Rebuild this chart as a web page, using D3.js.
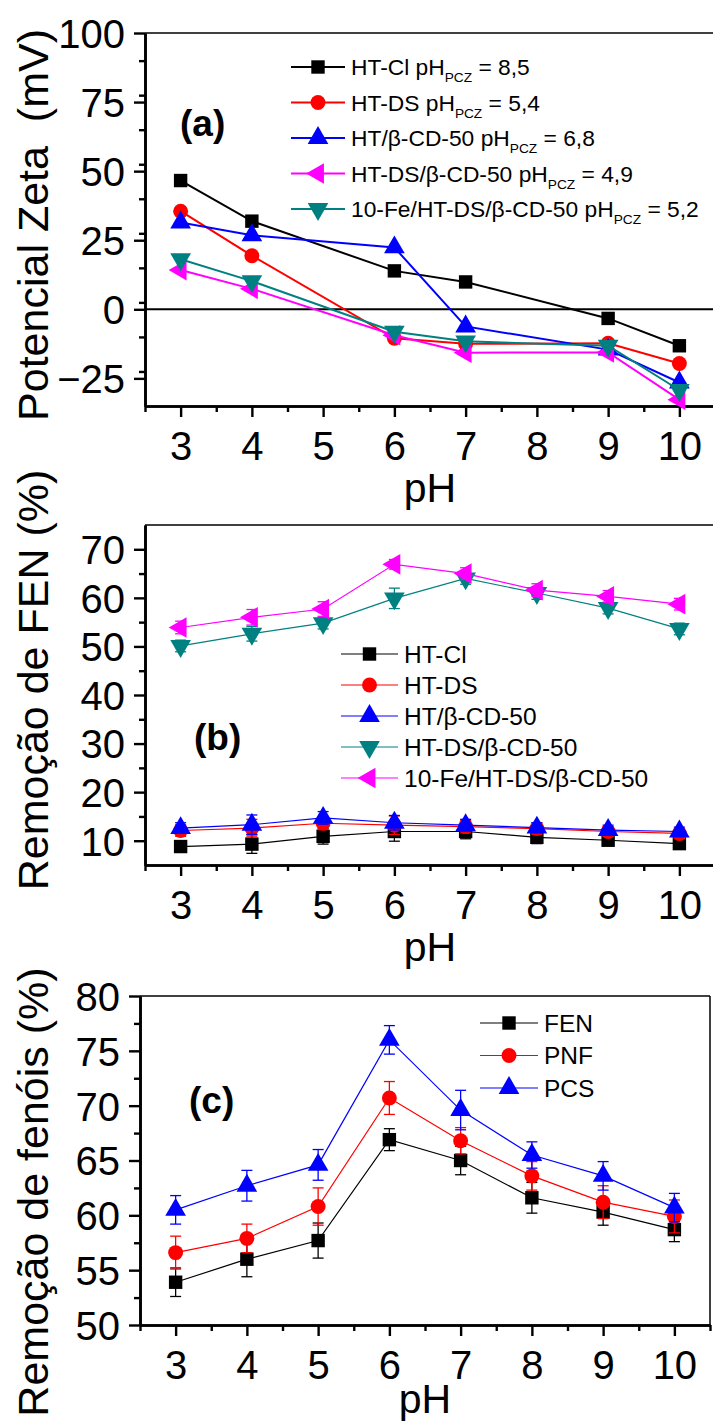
<!DOCTYPE html>
<html>
<head>
<meta charset="utf-8">
<script src="https://cdn.jsdelivr.net/npm/d3@7"></script>
<style>
body { margin: 0; background: #fff; }
text { font-family: "Liberation Sans", Arial, sans-serif; fill: #000; }
</style>
</head>
<body>
<svg id="chart" width="713" height="1427"></svg>
<script>
// (a) zeta potential vs pH
var phA = [3, 4, 6, 7, 9, 10];
var zetaHTCl = [46.6, 31.9, 13.9, 9.9, -3.3, -13.2];
var zetaHTDS = [35.5, 19.4, -10.5, -12.5, -12.3, -19.6];
var zetaHTBCD = [31.4, 26.8, 22.4, -6.2, -14.6, -26.5];
var zetaHTDSBCD = [14.2, 7.4, -9.4, -15.7, -15.6, -32.7];
var zetaFe = [18.1, 10.2, -8.1, -11.6, -13.2, -29.2];
var namesA = ["HT-Cl", "HT-DS", "HT/\u03B2-CD-50", "HT-DS/\u03B2-CD-50", "10-Fe/HT-DS/\u03B2-CD-50"];
var pczA = ["8,5", "5,4", "6,8", "4,9", "5,2"];
var ticksA = [100, 75, 50, 25, 0, -25];

// (b) FEN removal vs pH
var phB = [3, 4, 5, 6, 7, 8, 9, 10];
var fenHTCl = [8.8, 9.3, 10.9, 11.9, 11.9, 10.7, 10.1, 9.4];
var errHTCl = [0.8, 1.9, 1.6, 2.0, 1.5, 1.3, 1.0, 1.0];
var fenHTDS = [12.1, 12.6, 13.6, 13.2, 12.9, 12.5, 11.9, 11.5];
var errHTDS = [1.2, 1.8, 1.3, 1.9, 1.3, 1.2, 1.0, 1.0];
var fenHTBCD = [12.6, 13.3, 14.7, 13.7, 13.2, 12.7, 12.2, 11.9];
var errHTBCD = [1.1, 2.0, 1.3, 1.5, 1.2, 1.0, 1.0, 0.9];
var fenHTDSBCD = [50.1, 52.6, 54.8, 59.9, 64.0, 61.0, 57.9, 53.6];
var errHTDSBCD = [1.2, 1.5, 1.2, 2.1, 1.2, 1.3, 1.2, 1.2];
var fenFe = [53.9, 56.0, 57.7, 66.9, 65.0, 61.6, 60.3, 58.7];
var errFe = [1.3, 1.6, 1.5, 1.0, 1.2, 1.3, 1.2, 1.2];
var ticksB = [10, 20, 30, 40, 50, 60, 70];

// (c) phenols removal vs pH
var phC = [3, 4, 5, 6, 7, 8, 9, 10];
var remFEN = [53.9, 56.0, 57.7, 66.9, 65.0, 61.6, 60.3, 58.7];
var errFEN = [1.3, 1.6, 1.6, 1.0, 1.3, 1.4, 1.2, 1.1];
var remPNF = [56.6, 57.9, 60.8, 70.7, 66.8, 63.6, 61.2, 59.9];
var errPNF = [1.5, 1.3, 1.7, 1.5, 1.2, 1.3, 1.5, 1.5];
var remPCS = [60.5, 62.7, 64.6, 76.0, 69.6, 65.5, 63.6, 60.7];
var errPCS = [1.3, 1.4, 1.4, 1.3, 1.8, 1.2, 1.3, 1.3];
var namesC = ["FEN", "PNF", "PCS"];
var ticksC = [50, 55, 60, 65, 70, 75, 80];

var phTicks = [3, 4, 5, 6, 7, 8, 9, 10];

var black = "#000000", red = "#ff0000", blue = "#0000ff", magenta = "#ff00ff", teal = "#008080";

var svg = d3.select("#chart");

// marker shapes
var shapes = {
	square: {type: d3.symbolSquare, size: 180, rot: 0},
	circle: {type: d3.symbolCircle, size: 175, rot: 0},
	up: {type: d3.symbolTriangle, size: 185, rot: 0},
	left: {type: d3.symbolTriangle, size: 185, rot: -90},
	down: {type: d3.symbolTriangle, size: 185, rot: 180}
};

function marker(g, shape, cx, cy, color) {
	var s = shapes[shape];
	g.append("path")
		.attr("d", d3.symbol().type(s.type).size(s.size)())
		.attr("transform", "translate(" + cx + "," + cy + ") rotate(" + s.rot + ")")
		.attr("fill", color);
}

function panel(opt) {
	var g = svg.append("g");
	var x = d3.scaleLinear().domain([2.5, 10.5]).range([opt.left, opt.right]);
	var y = d3.scaleLinear().domain(opt.yDomain).range([opt.bottom, opt.top]);

	// frame
	g.append("line").attr("x1", opt.left).attr("x2", opt.right)
		.attr("y1", opt.top).attr("y2", opt.top)
		.attr("stroke", "#000").attr("stroke-width", 1.5);
	if (opt.rightBorder) {
		g.append("line").attr("x1", opt.right).attr("x2", opt.right)
			.attr("y1", opt.top).attr("y2", opt.bottom)
			.attr("stroke", "#000").attr("stroke-width", 1.5);
	}

	// axes, major + minor ticks
	var minorX = d3.range(2.5, 10.51, 0.5).filter(function(v){ return v % 1 != 0; });
	var xMinor = g.append("g").attr("transform", "translate(0," + opt.bottom + ")")
		.call(d3.axisBottom(x).tickValues(minorX).tickSize(6).tickSizeOuter(0).tickFormat(""));
	var xAxis = g.append("g").attr("transform", "translate(0," + opt.bottom + ")")
		.call(d3.axisBottom(x).tickValues(phTicks).tickSize(11).tickSizeOuter(0).tickPadding(15));

	var step = opt.yTicks[1] - opt.yTicks[0];
	var minorY = [];
	for (var v = opt.yDomain[0]; v <= opt.yDomain[1] + 0.01; v += Math.abs(step) / 2) {
		if (opt.yTicks.indexOf(v) < 0) minorY.push(v);
	}
	minorY = minorY.filter(function(v){ return v > opt.yDomain[0] + 0.01 && v < opt.yDomain[1] - 0.01; });
	var yMinor = g.append("g").attr("transform", "translate(" + opt.left + ",0)")
		.call(d3.axisLeft(y).tickValues(minorY).tickSize(6).tickSizeOuter(0).tickFormat(""));
	var yAxis = g.append("g").attr("transform", "translate(" + opt.left + ",0)")
		.call(d3.axisLeft(y).tickValues(opt.yTicks).tickSize(11).tickSizeOuter(0).tickPadding(9));

	[xMinor, xAxis, yMinor, yAxis].forEach(function(a){
		a.select(".domain").attr("stroke-width", 2.6);
		a.selectAll(".tick line").attr("stroke-width", 2.4);
		a.selectAll("text").attr("font-size", 40).attr("font-family", "Liberation Sans, Arial, sans-serif");
	});
	yAxis.selectAll("text").attr("dy", "0.36em");

	// zero line
	if (opt.zeroLine) {
		g.append("line").attr("x1", opt.left).attr("x2", opt.right)
			.attr("y1", y(0)).attr("y2", y(0))
			.attr("stroke", "#000").attr("stroke-width", 2);
	}

	// axis titles
	g.append("text").attr("x", x(6.5)).attr("y", opt.bottom + opt.pHOffset)
		.attr("text-anchor", "middle").attr("font-size", 41).text("pH");
	g.append("text")
		.attr("transform", "translate(" + 48 + "," + opt.titleY + ") rotate(-90)")
		.attr("text-anchor", "middle").attr("font-size", 43)
		.attr("xml:space", "preserve")
		.text(opt.yTitle);

	// panel letter
	g.append("text").attr("x", opt.letterX).attr("y", opt.letterY)
		.attr("font-size", 37).attr("font-weight", "bold").text(opt.letter);

	// series
	opt.series.forEach(function(s){
		var pts = s.ph.map(function(p, i){ return {p: p, v: s.values[i], e: s.errors ? s.errors[i] : 0}; });
		var line = d3.line().x(function(d){ return x(d.p); }).y(function(d){ return y(d.v); });
		g.append("path").datum(pts).attr("d", line)
			.attr("fill", "none").attr("stroke", s.color).attr("stroke-width", opt.lineWidth);
		if (s.errors) {
			var eb = g.append("g").attr("stroke", s.color).attr("stroke-width", 1.3);
			pts.forEach(function(d){
				eb.append("line").attr("x1", x(d.p)).attr("x2", x(d.p))
					.attr("y1", y(d.v - d.e)).attr("y2", y(d.v + d.e));
				eb.append("line").attr("x1", x(d.p) - 5.5).attr("x2", x(d.p) + 5.5)
					.attr("y1", y(d.v - d.e)).attr("y2", y(d.v - d.e));
				eb.append("line").attr("x1", x(d.p) - 5.5).attr("x2", x(d.p) + 5.5)
					.attr("y1", y(d.v + d.e)).attr("y2", y(d.v + d.e));
			});
		}
		pts.forEach(function(d){ marker(g, s.shape, x(d.p), y(d.v), s.color); });
	});

	// legend
	var lg = opt.legend;
	opt.series.forEach(function(s, i){
		var cy = lg.y + i * lg.dy;
		g.append("line").attr("x1", lg.x).attr("x2", lg.x + lg.len)
			.attr("y1", cy).attr("y2", cy)
			.attr("stroke", s.color).attr("stroke-width", opt.lineWidth);
		marker(g, s.shape, lg.x + lg.len / 2, cy, s.color);
		var t = g.append("text").attr("x", lg.x + lg.len + 6).attr("y", cy + lg.fs * 0.36)
			.attr("font-size", lg.fs);
		t.append("tspan").text(s.name);
		if (s.pcz) {
			t.append("tspan").text(" pH");
			t.append("tspan").attr("font-size", lg.fs * 0.6).attr("dy", 7).text("PCZ");
			t.append("tspan").attr("dy", -7).text(" = " + s.pcz);
		}
	});
}

var shapesA = ["square", "circle", "up", "left", "down"];
var colorsA = [black, red, blue, magenta, teal];
// in (b) the last two series swap colour and marker
var shapesB = ["square", "circle", "up", "down", "left"];
var colorsB = [black, red, blue, teal, magenta];

panel({
	left: 145, right: 715, top: 33, bottom: 406,
	yDomain: [-35, 100], yTicks: ticksA, zeroLine: true,
	pHOffset: 96, titleY: 225, yTitle: "Potencial Zeta  (mV)",
	letter: "(a)", letterX: 180, letterY: 136, lineWidth: 2,
	series: [zetaHTCl, zetaHTDS, zetaHTBCD, zetaHTDSBCD, zetaFe].map(function(vals, i){
		return {name: namesA[i], pcz: pczA[i], ph: phA, values: vals, color: colorsA[i], shape: shapesA[i]};
	}),
	legend: {x: 291, len: 54, y: 67, dy: 35.5, fs: 22.8}
});

var valsB = [fenHTCl, fenHTDS, fenHTBCD, fenHTDSBCD, fenFe];
var errsB = [errHTCl, errHTDS, errHTBCD, errHTDSBCD, errFe];
panel({
	left: 145, right: 715, top: 525, bottom: 865,
	yDomain: [5, 75], yTicks: ticksB,
	pHOffset: 96, titleY: 680, yTitle: "Remo\u00E7\u00E3o de FEN (%)",
	letter: "(b)", letterX: 194, letterY: 750, lineWidth: 1.2,
	series: valsB.map(function(vals, i){
		return {name: namesA[i], ph: phB, values: vals, errors: errsB[i], color: colorsB[i], shape: shapesB[i]};
	}),
	legend: {x: 341, len: 57, y: 654, dy: 31, fs: 24.5}
});

var valsC = [remFEN, remPNF, remPCS];
var errsC = [errFEN, errPNF, errPCS];
panel({
	left: 140, right: 710, top: 996, bottom: 1325, rightBorder: true,
	yDomain: [50, 80], yTicks: ticksC,
	pHOffset: 88, titleY: 1192, yTitle: "Remo\u00E7\u00E3o de fen\u00F3is (%)",
	letter: "(c)", letterX: 189, letterY: 1113, lineWidth: 1.2,
	series: valsC.map(function(vals, i){
		return {name: namesC[i], ph: phC, values: vals, errors: errsC[i], color: colorsA[i], shape: shapesA[i]};
	}),
	legend: {x: 480, len: 58, y: 1023, dy: 32.5, fs: 24.5}
});
</script>
</body>
</html>
